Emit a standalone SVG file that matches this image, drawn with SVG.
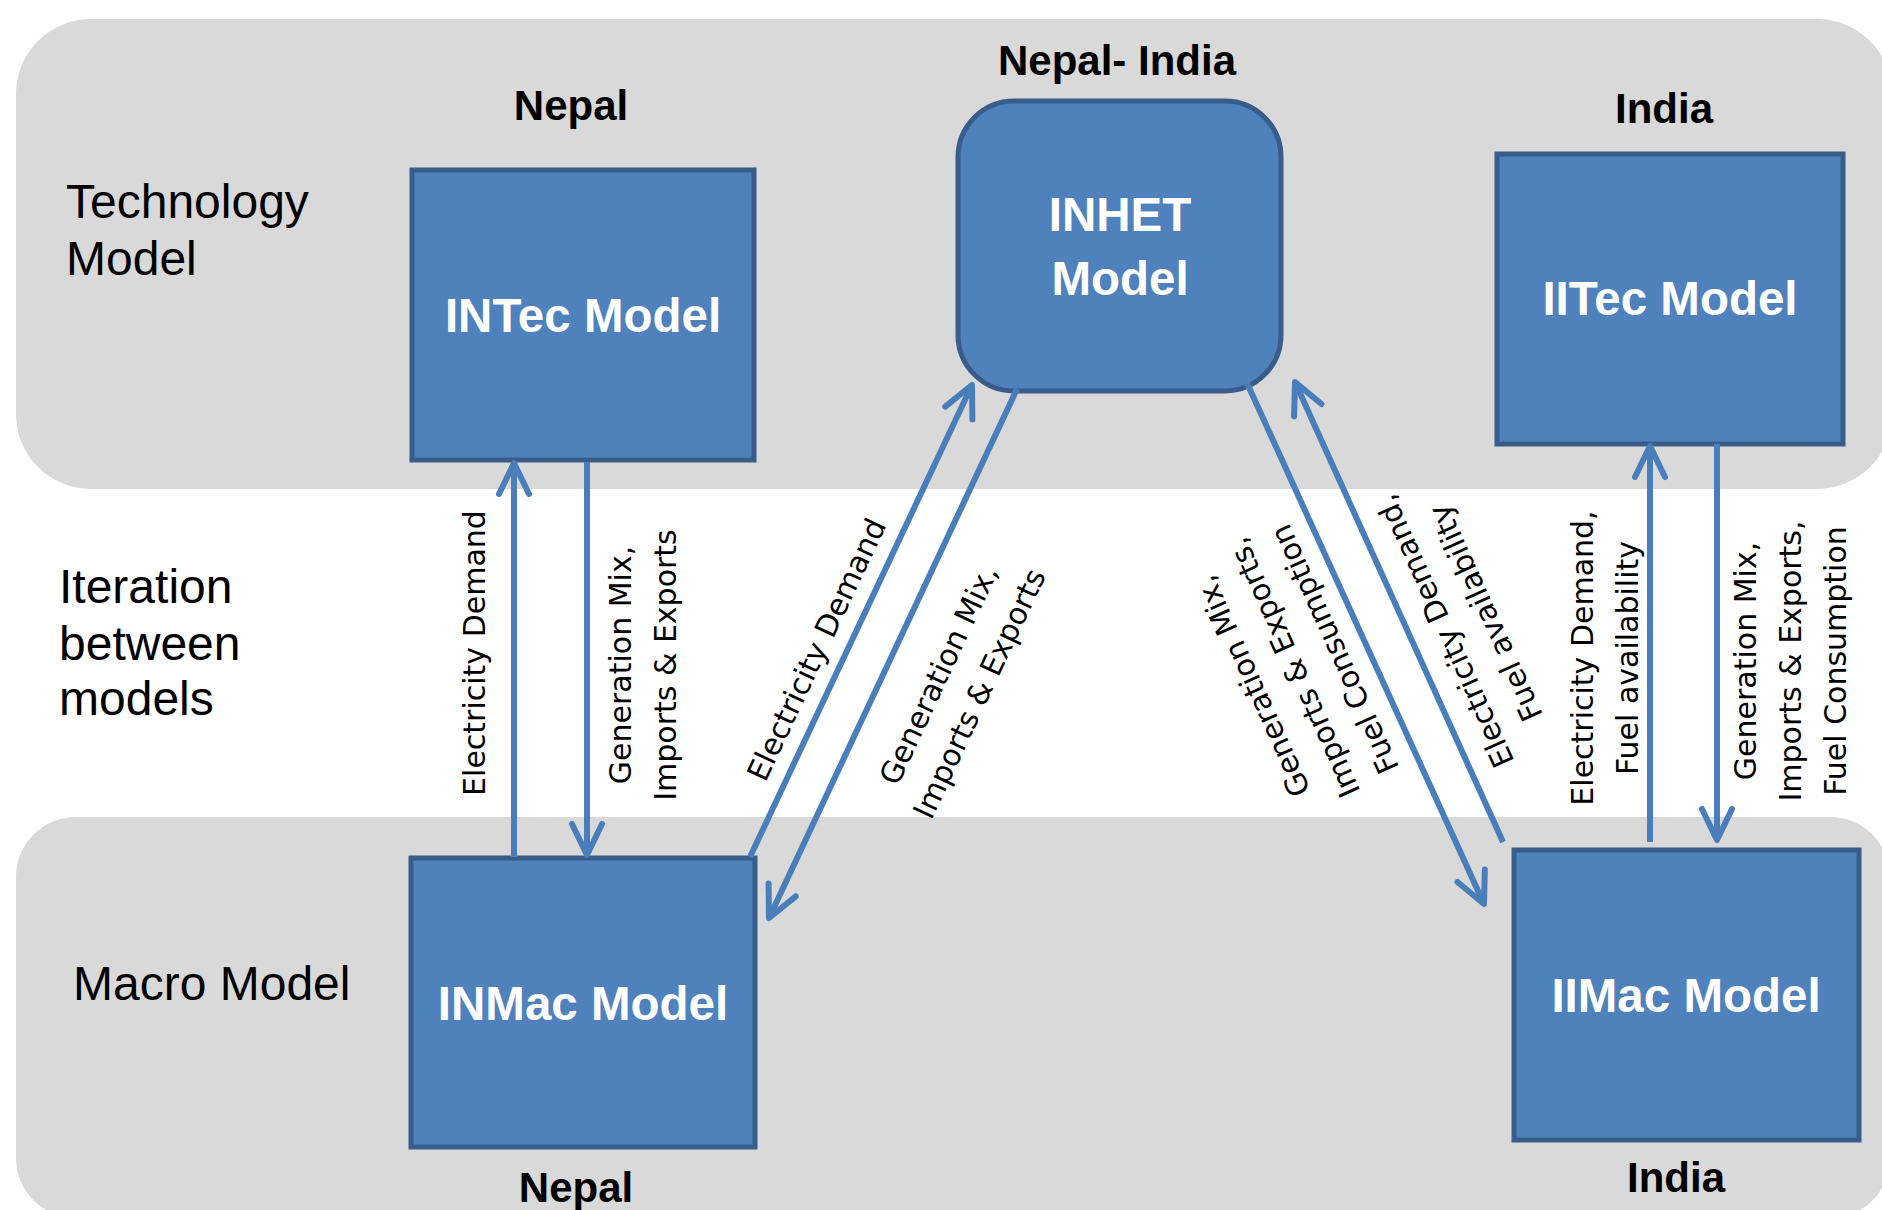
<svg xmlns="http://www.w3.org/2000/svg" width="1882" height="1210" viewBox="0 0 1882 1210">
<style>
.band{fill:#d9d9d9}
.side{font-family:"Liberation Sans",Arial,sans-serif;font-size:48px;fill:#000}
.place{font-family:"Liberation Sans",Arial,sans-serif;font-size:42px;font-weight:bold;fill:#000;text-anchor:middle}
.box{fill:#4f81bd;stroke:#385d8a;stroke-width:5}
.boxt{font-family:"Liberation Sans",Arial,sans-serif;font-size:47.5px;font-weight:bold;fill:#fff;text-anchor:middle}
.conn{stroke:#4a7ebb;stroke-width:6;fill:none;marker-end:url(#arr)}
.lbl{font-family:"DejaVu Sans",Verdana,sans-serif;font-size:30px;fill:#000;text-anchor:middle}
</style>
<defs>
<marker id="arr" markerUnits="userSpaceOnUse" markerWidth="1" markerHeight="1" refX="0" refY="0" orient="auto" overflow="visible">
<path d="M -31 -15 L 0 0 L -31 15" fill="none" stroke="#4a7ebb" stroke-width="6" stroke-linecap="round" stroke-linejoin="round"/>
</marker>
</defs>
<rect width="1882" height="1210" fill="#fff"/>
<rect class="band" x="16" y="19" width="1876" height="470" rx="75"/>
<rect class="band" x="16" y="817" width="1874" height="401" rx="60"/>

<g id="side-labels">
<text class="side" x="66" y="218">Technology</text>
<text class="side" x="66" y="275">Model</text>
<text class="side" x="59" y="603">Iteration</text>
<text class="side" x="59" y="660">between</text>
<text class="side" x="59" y="715">models</text>
<text class="side" x="73" y="1000">Macro Model</text>
</g>
<g id="place-labels">
<text class="place" x="571" y="120">Nepal</text>
<text class="place" x="1117" y="75">Nepal- India</text>
<text class="place" x="1664" y="123">India</text>
<text class="place" x="576" y="1202">Nepal</text>
<text class="place" x="1676" y="1192">India</text>
</g>

<g id="INTec">
<rect class="box" x="412" y="170" width="342" height="290"/>
<text class="boxt" x="583" y="332">INTec Model</text>
</g>
<g id="INHET">
<rect class="box" x="958" y="101" width="323" height="290" rx="56"/>
<text class="boxt" x="1120" y="231">INHET</text>
<text class="boxt" x="1120" y="295">Model</text>
</g>
<g id="IITec">
<rect class="box" x="1497" y="154" width="346" height="290"/>
<text class="boxt" x="1670" y="315">IITec Model</text>
</g>
<g id="INMac">
<rect class="box" x="411" y="858" width="344" height="289"/>
<text class="boxt" x="583" y="1020">INMac Model</text>
</g>
<g id="IIMac">
<rect class="box" x="1514" y="850" width="345" height="290"/>
<text class="boxt" x="1686" y="1012">IIMac Model</text>
</g>

<g id="connectors">
<line class="conn" x1="514" y1="857" x2="514" y2="463"/>
<line class="conn" x1="587" y1="462" x2="587" y2="855"/>
<line class="conn" x1="750" y1="857" x2="972" y2="385"/>
<line class="conn" x1="1017" y1="389" x2="769" y2="918"/>
<line class="conn" x1="1247" y1="383" x2="1484" y2="904"/>
<line class="conn" x1="1503" y1="842" x2="1295" y2="382"/>
<line class="conn" x1="1650" y1="842" x2="1650" y2="446"/>
<line class="conn" x1="1717" y1="444" x2="1717" y2="840"/>
</g>

<g id="connector-labels">
<text class="lbl" transform="translate(485,653) rotate(-90)">Electricity Demand</text>
<text class="lbl" transform="translate(631,665) rotate(-90)"><tspan x="0" y="0">Generation Mix,</tspan><tspan x="0" y="45">Imports &amp; Exports</tspan></text>
<text class="lbl" transform="translate(826,654) rotate(-64.8)">Electricity Demand</text>
<text class="lbl" transform="translate(948,679) rotate(-64.9)"><tspan x="0" y="0">Generation Mix,</tspan><tspan x="0" y="45">Imports &amp; Exports</tspan></text>
<text class="lbl" transform="translate(1262,682) rotate(-114.3)"><tspan x="0" y="0">Generation Mix,</tspan><tspan x="0" y="45">Imports &amp; Exports,</tspan><tspan x="0" y="90">Fuel Consumption</tspan></text>
<text class="lbl" transform="translate(1454,627) rotate(-114.3)"><tspan x="0" y="0">Electricity Demand,</tspan><tspan x="0" y="45">Fuel availability</tspan></text>
<text class="lbl" transform="translate(1593,658) rotate(-90)"><tspan x="0" y="0">Electricity Demand,</tspan><tspan x="0" y="45">Fuel availability</tspan></text>
<text class="lbl" transform="translate(1756,661) rotate(-90)"><tspan x="0" y="0">Generation Mix,</tspan><tspan x="0" y="45">Imports &amp; Exports,</tspan><tspan x="0" y="90">Fuel Consumption</tspan></text>
</g>
</svg>
